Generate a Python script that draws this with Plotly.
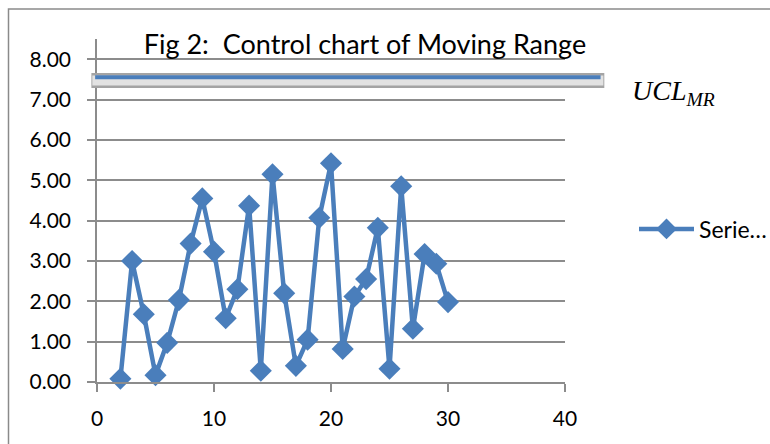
import plotly.graph_objects as go

# Data
x_vals = [2, 3, 4, 5, 6, 7, 8, 9, 10, 11, 12, 13, 14, 15, 16, 17, 18, 19, 20,
          21, 22, 23, 24, 25, 26, 27, 28, 29, 30]
mr_vals = [0.08, 3.00, 1.68, 0.17, 0.97, 2.03, 3.43, 4.55, 3.23, 1.58, 2.30,
           4.37, 0.28, 5.15, 2.20, 0.40, 1.05, 4.07, 5.42, 0.82, 2.12, 2.55,
           3.82, 0.33, 4.85, 1.32, 3.17, 2.93, 1.98]
ucl_value = 7.55
ucl_x_start = 0
ucl_x_end = 43.2
x_range = [0, 40]
y_range = [0, 8.5]
y_ticks = [0, 1, 2, 3, 4, 5, 6, 7, 8]
x_ticks = [0, 10, 20, 30, 40]
series_name = "Serie…"
title_text = "Fig 2:  Control chart of Moving Range"

BLUE = "#4A7EBB"
GRID = "#8C8C8C"
FONT = "Lato"

fig = go.Figure()

fig.add_trace(go.Scatter(
    x=x_vals, y=mr_vals, mode="lines+markers", name=series_name,
    line=dict(color=BLUE, width=4.5),
    marker=dict(symbol="diamond", size=17, color=BLUE),
    cliponaxis=False,
))

# UCL drawn as a grey-outlined bar with a blue core (x in paper units derived from data)
def xp_data(v): return (v - x_range[0]) / (x_range[1] - x_range[0])
x0p, x1p = xp_data(ucl_x_start), xp_data(ucl_x_end)
band_y = ucl_value - 0.08
fig.add_shape(type="line", xref="paper", yref="y",
              x0=x0p - 0.012, x1=x1p + 0.004, y0=band_y, y1=band_y,
              line=dict(color="#a4a4a4", width=15), layer="above")
fig.add_shape(type="line", xref="paper", yref="y",
              x0=x0p - 0.010, x1=x1p + 0.002, y0=band_y, y1=band_y,
              line=dict(color="#e2e2e2", width=10), layer="above")
fig.add_shape(type="line", xref="paper", yref="y",
              x0=x0p - 0.004, x1=x1p - 0.004, y0=ucl_value, y1=ucl_value,
              line=dict(color=BLUE, width=4), layer="above")

# Outer chart frame
L, R, T, B = 97, 565, 39, 382
W, H = R - L, B - T
def px(xp): return (xp - L) / W
def py(yp): return (B - yp) / H
fig.add_shape(type="rect", xref="paper", yref="paper",
              x0=px(8.5), x1=px(800), y0=py(9), y1=py(480),
              line=dict(color="#8a8a8a", width=1.5), fillcolor="rgba(0,0,0,0)")

# UCL label
fig.add_annotation(xref="paper", yref="paper", x=px(630), y=py(92),
                   xanchor="left", yanchor="middle", showarrow=False,
                   text="<i>UCL<sub>MR</sub></i>",
                   font=dict(family="Liberation Serif", size=28, color="#000"))

fig.update_layout(
    width=770, height=444,
    margin=dict(l=L, r=770 - R, t=T, b=444 - B, autoexpand=False),
    paper_bgcolor="white", plot_bgcolor="white",
    font=dict(family=FONT, size=21, color="#000"),
    title=dict(text=title_text, x=px(365), xref="paper", xanchor="center",
               y=1 - 45 / 444, yanchor="middle", yref="container",
               font=dict(family=FONT, size=27, color="#000")),
    showlegend=True,
    legend=dict(x=px(634), y=py(229), xanchor="left", yanchor="middle",
                font=dict(family=FONT, size=23), itemwidth=55,
                bgcolor="rgba(0,0,0,0)"),
    xaxis=dict(range=x_range, tickvals=x_ticks, showgrid=False, zeroline=False,
               showline=True, linecolor=GRID, linewidth=1.5,
               ticks="outside", ticklen=8, tickcolor=GRID, tickwidth=1.5,
               ticklabelstandoff=9),
    yaxis=dict(range=y_range, tickvals=y_ticks, tickformat=".2f",
               showgrid=True, gridcolor=GRID, gridwidth=1.5, zeroline=False,
               showline=True, linecolor=GRID, linewidth=1.5,
               ticks="outside", ticklen=8, tickcolor=GRID, tickwidth=1.5,
               ticklabelstandoff=12),
)

fig.write_html("out.html")
